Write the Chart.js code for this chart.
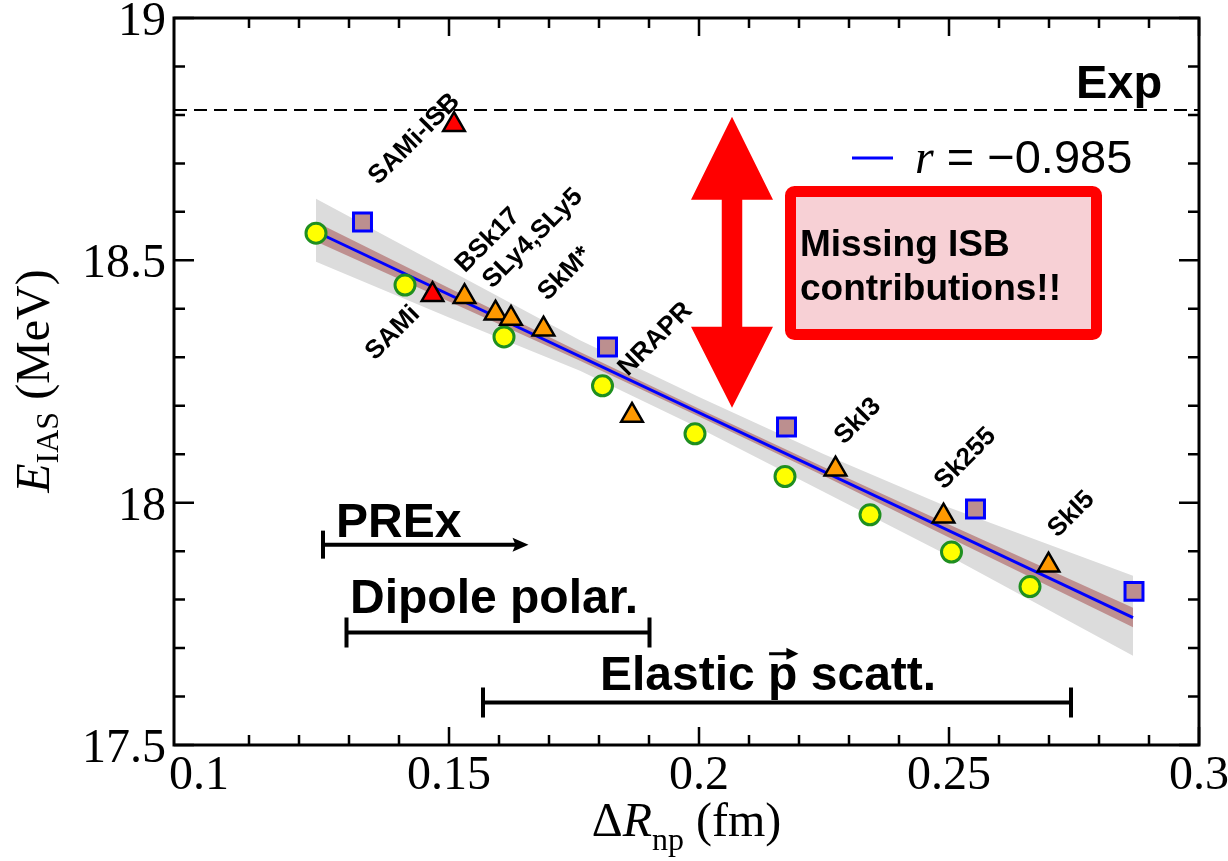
<!DOCTYPE html>
<html><head><meta charset="utf-8">
<script src="https://cdn.jsdelivr.net/npm/chart.js@4.4.1/dist/chart.umd.min.js"></script>
<style>html,body{margin:0;padding:0;background:#fff;}#wrap{width:1228px;height:861px;position:relative;}</style>
</head><body><div id="wrap"><canvas id="c" width="1228" height="861"></canvas></div>
<script>
// ---------- data ----------
const circleX = [0.1234, 0.1412, 0.1610, 0.1807, 0.1992, 0.2172, 0.2342, 0.2505, 0.2662];
const circleY = [18.556, 18.449, 18.342, 18.241, 18.142, 18.054, 17.975, 17.898, 17.827];

const squareX = [0.1327, 0.1817, 0.2175, 0.2553, 0.2870];
const squareY = [18.579, 18.321, 18.156, 17.987, 17.817];

// SAMi, SAMi-ISB
const redTriX = [0.1467, 0.1510];
const redTriY = [18.429, 18.780];
// BSk17, SLy4, SLy5, SkM*, NRAPR, SkI3, Sk255, SkI5
const orangeTriX = [0.1531, 0.1593, 0.1624, 0.1689, 0.1866, 0.2273, 0.2489, 0.2699];
const orangeTriY = [18.425, 18.391, 18.380, 18.358, 18.180, 18.069, 17.972, 17.871];

const fitX = [0.1234, 0.2868];
const fitY = [18.559, 17.763];

const bandX      = [0.1234, 0.150, 0.1762, 0.200, 0.225, 0.250, 0.2868];
const grayUpper  = [18.627, 18.480, 18.335, 18.218, 18.100, 17.990, 17.849];
const grayLower  = [18.497, 18.382, 18.272, 18.154, 18.022, 17.890, 17.684];
const brownUpper = [18.579, 18.443, 18.311, 18.194, 18.073, 17.955, 17.783];
const brownLower = [18.539, 18.415, 18.293, 18.178, 18.055, 17.928, 17.743];

const expValue = 18.81;
const expX = [0.095, 0.3];

const xTickLabels = ['0.1', '0.15', '0.2', '0.25', '0.3'];
const yTickLabels = ['17.5', '18', '18.5', '19'];

const modelLabels = ['SAMi-ISB', 'BSk17', 'SLy4,SLy5', 'SkM*', 'NRAPR', 'SkI3', 'Sk255', 'SkI5', 'SAMi'];
const modelLabelX = [0.1428, 0.1575, 0.1665, 0.1729, 0.1910, 0.2315, 0.2530, 0.2742, 0.1385];
const modelLabelY = [18.753, 18.544, 18.548, 18.475, 18.340, 18.171, 18.094, 17.979, 18.353];

const fitLegend = 'r = \u22120.985';

// ---------- helpers ----------
const zip = (xs, ys) => xs.map((v, i) => ({x: v, y: ys[i]}));
const SANS = '"Liberation Sans", Arial, Helvetica, sans-serif';
const SERIF = '"Liberation Serif", "Times New Roman", Times, serif';

function drawRuns(ctx, runs, cx, cy, rot) {
  ctx.save();
  ctx.translate(cx, cy);
  ctx.rotate(rot);
  let total = 0;
  runs.forEach(r => { ctx.font = r.font; r.w = ctx.measureText(r.t).width; total += r.w; });
  let xx = -total / 2;
  ctx.textBaseline = 'alphabetic';
  ctx.textAlign = 'left';
  runs.forEach(r => { ctx.font = r.font; ctx.fillText(r.t, xx, r.dy || 0); xx += r.w; });
  ctx.restore();
}

const decor = {
  id: 'decor',
  afterDatasetsDraw(chart) {
    const {ctx, scales: {x, y}} = chart;
    const X = v => x.getPixelForValue(v), Y = v => y.getPixelForValue(v);
    ctx.save();
    // red double arrow
    const ax = 0.2066, cx = X(ax);
    const hh = X(ax + 0.0082) - cx, sh = X(ax + 0.00205) - cx;
    const t1 = Y(18.796), h1 = Y(18.625), h2 = Y(18.363), t2 = Y(18.196);
    ctx.fillStyle = '#ff0000';
    ctx.beginPath();
    ctx.moveTo(cx, t1); ctx.lineTo(cx + hh, h1); ctx.lineTo(cx + sh, h1); ctx.lineTo(cx + sh, h2);
    ctx.lineTo(cx + hh, h2); ctx.lineTo(cx, t2); ctx.lineTo(cx - hh, h2); ctx.lineTo(cx - sh, h2);
    ctx.lineTo(cx - sh, h1); ctx.lineTo(cx - hh, h1); ctx.closePath(); ctx.fill();

    // message box
    const bx1 = X(0.2183), bx2 = X(0.2795), by1 = Y(18.642), by2 = Y(18.347);
    ctx.beginPath();
    ctx.roundRect(bx1, by1, bx2 - bx1, by2 - by1, 4);
    ctx.fillStyle = '#f7d0d5'; ctx.fill();
    ctx.lineWidth = 11; ctx.strokeStyle = '#ff0000'; ctx.lineJoin = 'round'; ctx.stroke();
    ctx.fillStyle = '#000';
    ctx.font = 'bold 37px ' + SANS;
    ctx.textAlign = 'left'; ctx.textBaseline = 'alphabetic';
    ctx.fillText('Missing ISB', X(0.2202), Y(18.509));
    ctx.fillText('contributions!!', X(0.2202), Y(18.419));

    // model labels
    ctx.font = 'bold 26px ' + SANS;
    ctx.textAlign = 'center'; ctx.textBaseline = 'middle';
    modelLabels.forEach((t, i) => {
      ctx.save();
      ctx.translate(X(modelLabelX[i]), Y(modelLabelY[i]));
      ctx.rotate(-Math.PI / 4);
      ctx.fillText(t, 0, 2);
      ctx.restore();
    });

    // Exp label
    ctx.textAlign = 'left'; ctx.textBaseline = 'alphabetic';
    ctx.font = 'bold 47px ' + SANS;
    ctx.fillText('Exp', X(0.2754), Y(18.834));

    // legend of fit
    ctx.strokeStyle = '#0000ff'; ctx.lineWidth = 3;
    ctx.beginPath(); ctx.moveTo(X(0.2306), Y(18.711)); ctx.lineTo(X(0.2388), Y(18.711)); ctx.stroke();
    ctx.font = 'italic 48px ' + SERIF;
    const lx = X(0.2432), ly = Y(18.680);
    ctx.fillText(fitLegend.slice(0, 1), lx, ly);
    const rw = ctx.measureText(fitLegend.slice(0, 1)).width;
    ctx.font = '47px ' + SANS;
    ctx.fillText(fitLegend.slice(1), lx + rw, ly);

    // experimental constraints
    ctx.strokeStyle = '#000'; ctx.fillStyle = '#000'; ctx.lineWidth = 4; ctx.lineCap = 'butt';
    ctx.font = 'bold 48px ' + SANS;
    // PREx
    ctx.fillText('PREx', X(0.1274), Y(17.930));
    let yy = Y(17.9134), xa = X(0.1248), xb = X(0.1659);
    ctx.beginPath(); ctx.moveTo(xa, yy); ctx.lineTo(xb - 10, yy); ctx.stroke();
    ctx.beginPath(); ctx.moveTo(xa, yy - 14); ctx.lineTo(xa, yy + 14); ctx.stroke();
    ctx.beginPath(); ctx.moveTo(xb, yy); ctx.lineTo(xb - 16, yy - 7); ctx.lineTo(xb - 13, yy); ctx.lineTo(xb - 16, yy + 7); ctx.closePath(); ctx.fill();
    // Dipole polar.
    ctx.fillText('Dipole polar.', X(0.1302), Y(17.773));
    yy = Y(17.732); xa = X(0.1295); xb = X(0.1901);
    ctx.beginPath(); ctx.moveTo(xa, yy); ctx.lineTo(xb, yy); ctx.stroke();
    ctx.beginPath(); ctx.moveTo(xa, yy - 15); ctx.lineTo(xa, yy + 15); ctx.moveTo(xb, yy - 15); ctx.lineTo(xb, yy + 15); ctx.stroke();
    // Elastic p scatt.
    const ex = X(0.1802), ey = Y(17.614);
    ctx.fillText('Elastic p scatt.', ex, ey);
    const pre = ctx.measureText('Elastic ').width, pw = ctx.measureText('p').width;
    const ay = ey - 36;
    ctx.lineWidth = 3;
    ctx.beginPath(); ctx.moveTo(ex + pre + 1, ay); ctx.lineTo(ex + pre + pw - 8, ay); ctx.stroke();
    ctx.beginPath(); ctx.moveTo(ex + pre + pw + 1, ay); ctx.lineTo(ex + pre + pw - 11, ay - 6); ctx.lineTo(ex + pre + pw - 11, ay + 6); ctx.closePath(); ctx.fill();
    ctx.lineWidth = 4;
    yy = Y(17.5876); xa = X(0.1568); xb = X(0.2744);
    ctx.beginPath(); ctx.moveTo(xa, yy); ctx.lineTo(xb, yy); ctx.stroke();
    ctx.beginPath(); ctx.moveTo(xa, yy - 15); ctx.lineTo(xa, yy + 15); ctx.moveTo(xb, yy - 15); ctx.lineTo(xb, yy + 15); ctx.stroke();
    ctx.restore();
  },
  afterDraw(chart) {
    const {ctx, chartArea: ca, scales: {x, y}} = chart;
    ctx.save();
    ctx.strokeStyle = '#000'; ctx.fillStyle = '#000';
    // ticks (inward, all four sides)
    ctx.lineWidth = 2.5;
    x.ticks.forEach(t => {
      const v = t.value * 100;
      if (Math.abs(v - Math.round(v)) > 1e-6) return;
      const major = Math.round(v) % 5 === 0;
      const L = major ? 18 : 10;
      const p = x.getPixelForValue(t.value);
      ctx.beginPath();
      ctx.moveTo(p, ca.bottom); ctx.lineTo(p, ca.bottom - L);
      ctx.moveTo(p, ca.top); ctx.lineTo(p, ca.top + L);
      ctx.stroke();
    });
    y.ticks.forEach(t => {
      const v = t.value * 10;
      if (Math.abs(v - Math.round(v)) > 1e-6) return;
      const major = Math.round(v) % 5 === 0;
      const L = major ? 20 : 11;
      const p = y.getPixelForValue(t.value);
      ctx.beginPath();
      ctx.moveTo(ca.left, p); ctx.lineTo(ca.left + L, p);
      ctx.moveTo(ca.right, p); ctx.lineTo(ca.right - L, p);
      ctx.stroke();
    });
    // frame
    ctx.lineWidth = 3;
    ctx.strokeRect(ca.left, ca.top, ca.right - ca.left, ca.bottom - ca.top);
    // tick labels
    ctx.font = '48px ' + SERIF;
    ctx.textBaseline = 'alphabetic';
    ctx.textAlign = 'center';
    xTickLabels.forEach(l => ctx.fillText(l, x.getPixelForValue(parseFloat(l)), ca.bottom + 44));
    ctx.textAlign = 'right';
    yTickLabels.forEach(l => ctx.fillText(l, ca.left - 8, y.getPixelForValue(parseFloat(l)) + 17));
    // axis titles
    drawRuns(ctx, [
      {t: '\u0394', font: '48px ' + SERIF},
      {t: 'R', font: 'italic 48px ' + SERIF},
      {t: 'np', font: '32px ' + SERIF, dy: 14},
      {t: ' (fm)', font: '48px ' + SERIF}
    ], (ca.left + ca.right) / 2, ca.bottom + 91, 0);
    drawRuns(ctx, [
      {t: 'E', font: 'italic 48px ' + SERIF},
      {t: 'IAS', font: '32px ' + SERIF, dy: 9},
      {t: ' (MeV)', font: '48px ' + SERIF}
    ], 49, 381, -Math.PI / 2);
    ctx.restore();
  }
};

const lineDs = (data, extra) => Object.assign({type: 'line', data, pointRadius: 0, showLine: true, tension: 0}, extra);

new Chart(document.getElementById('c'), {
  type: 'scatter',
  data: {
    datasets: [
      {label: 'red', data: zip(redTriX, redTriY), pointStyle: 'triangle', pointRadius: 12.5,
       backgroundColor: '#ff0000', borderColor: '#000', borderWidth: 2.5, order: 1},
      {label: 'orange', data: zip(orangeTriX, orangeTriY), pointStyle: 'triangle', pointRadius: 12.5,
       backgroundColor: '#ff9900', borderColor: '#000', borderWidth: 2.5, order: 2},
      {label: 'squares', data: zip(squareX, squareY), pointStyle: 'rect', pointRadius: 12.7,
       backgroundColor: '#bc8f8f', borderColor: '#0000ff', borderWidth: 3, order: 3},
      {label: 'circles', data: zip(circleX, circleY), pointStyle: 'circle', pointRadius: 10,
       backgroundColor: '#ffff00', borderColor: '#1f8f1f', borderWidth: 3, order: 4},
      lineDs(zip(expX, [expValue, expValue]), {label: 'exp', borderColor: '#000', borderWidth: 2, borderDash: [13, 7], fill: false, order: 5}),
      lineDs(zip(fitX, fitY), {label: 'fit', borderColor: '#0000ff', borderWidth: 3, fill: false, order: 6}),
      lineDs(zip(bandX, brownUpper), {label: 'bu', borderWidth: 0, borderColor: 'rgba(0,0,0,0)', backgroundColor: '#be9090', fill: '+1', order: 7}),
      lineDs(zip(bandX, brownLower), {label: 'bl', borderWidth: 0, borderColor: 'rgba(0,0,0,0)', fill: false, order: 8}),
      lineDs(zip(bandX, grayUpper), {label: 'gu', borderWidth: 0, borderColor: 'rgba(0,0,0,0)', backgroundColor: '#dcdcdc', fill: '+1', order: 9}),
      lineDs(zip(bandX, grayLower), {label: 'gl', borderWidth: 0, borderColor: 'rgba(0,0,0,0)', fill: false, order: 10})
    ]
  },
  options: {
    responsive: false,
    animation: false,
    devicePixelRatio: 1,
    layout: {padding: {left: 174, right: 29, top: 18, bottom: 116}},
    plugins: {legend: {display: false}, tooltip: {enabled: false}},
    scales: {
      x: {type: 'linear', min: 0.095, max: 0.3,
          ticks: {display: false, stepSize: 0.01},
          grid: {display: false, drawTicks: false}, border: {display: false},
          afterFit: s => { s.height = 0; }},
      y: {type: 'linear', min: 17.5, max: 19,
          ticks: {display: false, stepSize: 0.1},
          grid: {display: false, drawTicks: false}, border: {display: false},
          afterFit: s => { s.width = 0; }}
    }
  },
  plugins: [decor]
});
</script>
</body></html>
